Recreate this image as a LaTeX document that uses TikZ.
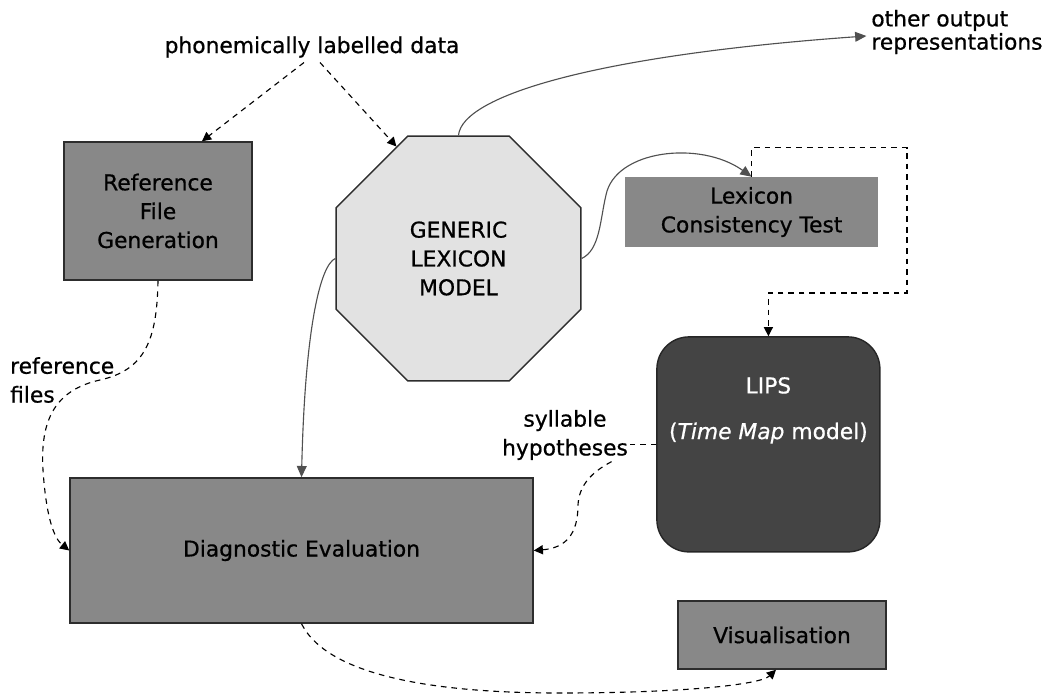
\documentclass[tikz,border=0pt]{standalone}
\usepackage{fontspec}
\setmainfont{DejaVu Sans}[RawFeature={embolden=0.7}]
\usepackage{tikz}
\usetikzlibrary{shapes.geometric, arrows.meta, positioning, calc}
\definecolor{boxgray}{RGB}{136,136,136}
\definecolor{lexgray}{RGB}{226,226,226}
\definecolor{lipsdark}{RGB}{68,68,68}
\definecolor{linegray}{RGB}{80,80,80}
\definecolor{edgedark}{RGB}{45,45,45}

\begin{document}
\begin{tikzpicture}[
  every node/.style={font=\fontsize{15.5}{20.5}\selectfont},
  box/.style={draw=edgedark, line width=1.1pt, fill=boxgray, rectangle, align=center},
  solidarrow/.style={draw=linegray, line width=0.8pt, -{Triangle[length=8pt, width=7pt]}},
  dasharrow/.style={black, line width=0.8pt, dash pattern=on 4pt off 3.5pt, -{Triangle[length=6.5pt, width=6.5pt]}}]
  \useasboundingbox (0,0) rectangle (26.575,-17.35);

  % Processing blocks
  \node[box, minimum width=4.7cm, minimum height=3.45cm] (ref) at (3.95,-5.275) {Reference\\File\\Generation};
  \node[regular polygon, regular polygon sides=8, draw=edgedark, line width=1pt, fill=lexgray, minimum size=6.625cm, inner sep=0pt, align=center] (gen) at (11.4625,-6.4625) {GENERIC\\LEXICON\\MODEL};
  \node[rectangle, fill=boxgray, minimum width=6.325cm, minimum height=1.75cm, align=center] (lex) at (18.79,-5.3) {Lexicon\\Consistency Test};
  \node[rectangle, rounded corners=0.8cm, draw=black!85, line width=1pt, fill=lipsdark, minimum width=5.575cm, minimum height=5.375cm] (lips) at (19.21,-11.11) {};
  \node[text=white, align=center] (lipstext) at ([yshift=0.85cm]lips.center) {LIPS\\[12pt](\textit{Time Map} model)};
  \node[box, minimum width=11.575cm, minimum height=3.625cm] (diag) at (7.5375,-13.7625) {Diagnostic Evaluation};
  \node[box, minimum width=5.2cm, minimum height=1.7cm] (vis) at (19.55,-15.875) {Visualisation};

  % Free labels
  \node (data) at (7.8,-1.175) {phonemically labelled data};
  \node[anchor=west, align=left] (other) at (21.66,-0.8) {other output\\[-4pt]representations};
  \node[anchor=west, align=left] (reffiles) at (0.13,-9.5) {reference\\files};
  \node[align=center, inner sep=1pt] (hyp) at (14.125,-10.875) {syllable\\hypotheses};

  % Input data
  \draw[dasharrow] ([xshift=-0.2cm]data.south) -- ([xshift=1.1cm]ref.north);
  \draw[dasharrow] ([xshift=0.2cm]data.south) -- (gen.119);

  % Lexicon model outputs
  \draw[solidarrow] (gen.north) .. controls (11.55,-2.375) and (15,-1.375) .. ([yshift=-0.1cm]other.west);
  \draw[solidarrow] (gen.east) .. controls (15,-6.25) and (15,-5.5) .. (15.15,-4.875)
    .. controls (15.375,-3.75) and (17.5,-3.5) .. (lex.north);
  \draw[solidarrow] (gen.west) .. controls (8,-6.625) and (7.625,-8.25) .. (diag.north);

  % Consistency test feeds LIPS
  \draw[dasharrow] (lex.north) -- ++(0,0.725) -| (22.675,-7.325) -| (lips.north);

  % Reference files
  \draw[dasharrow] (ref.south) .. controls (3.925,-8.5) and (3.625,-9.25) .. (2.5,-9.5)
    .. controls (1.375,-9.75) and (1,-10.5) .. (1.075,-11.75)
    .. controls (1.125,-12.5) and (1.25,-13.375) .. (diag.west);

  % Syllable hypotheses
  \draw[black, line width=0.8pt, dash pattern=on 4pt off 3.5pt] (lips.west) -- (lips.west -| hyp.east);
  \draw[dasharrow] ([xshift=-0.45cm]hyp.south east) .. controls (14.8,-11.8) and (14.475,-12.125) .. (14.45,-12.625)
    .. controls (14.45,-13.375) and (14.125,-13.7) .. (diag.east);

  % Evaluation results
  \draw[dasharrow] (diag.south) .. controls (8.25,-17) and (11.25,-17.325) .. (14,-17.325)
    .. controls (17,-17.325) and (19,-17.125) .. ([xshift=-0.15cm]vis.south);
\end{tikzpicture}
\end{document}
